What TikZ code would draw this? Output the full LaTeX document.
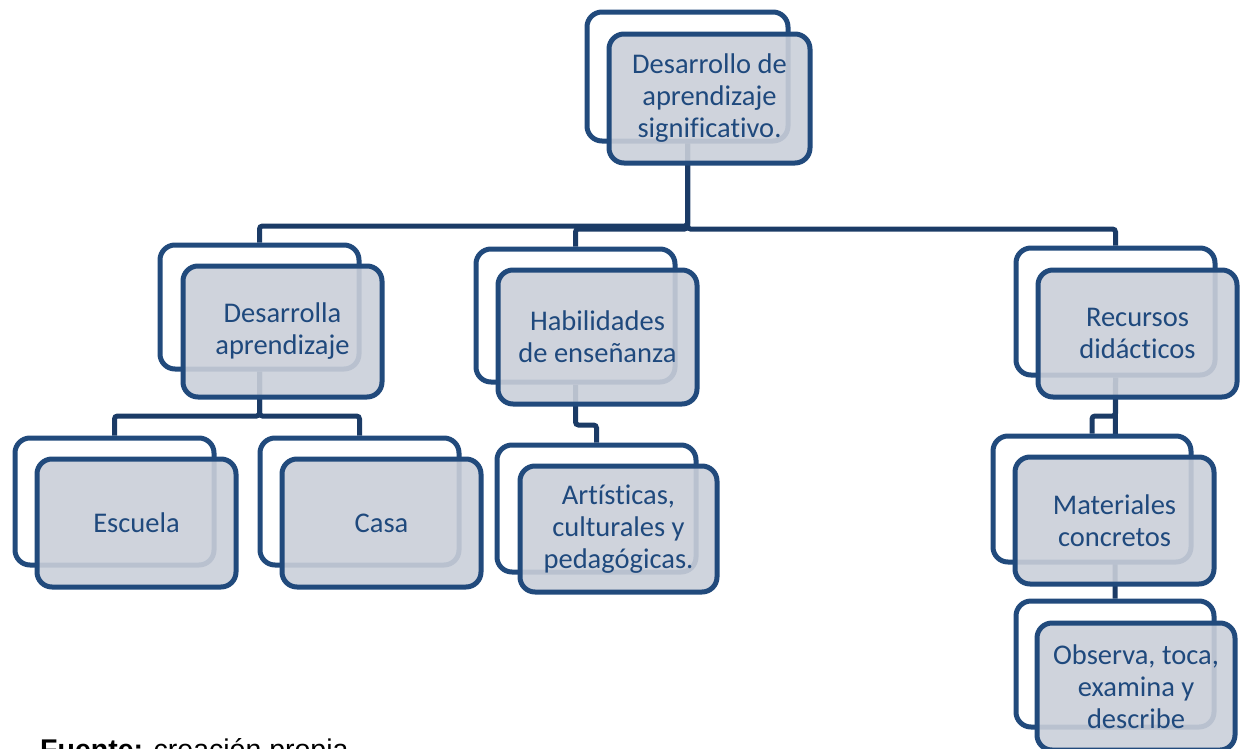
\documentclass[tikz,border=0pt]{standalone}
\usepackage{fontspec}
\setmainfont{Carlito}[Ligatures={NoCommon}]
\newfontfamily\arialf{Liberation Sans}
\usetikzlibrary{fit}
\pgfdeclarelayer{bg}
\pgfsetlayers{bg,main}
\definecolor{boxline}{HTML}{214A7C}
\definecolor{connline}{HTML}{1B3B66}
\definecolor{boxtext}{HTML}{1F497D}
\definecolor{boxfill}{RGB}{202,207,217}
\tikzset{
  backbox/.style={draw=boxline, line width=5pt, fill=white, rounded corners=15pt, inner sep=0pt},
  frontbox/.style={draw=boxline, line width=5pt, fill=boxfill, fill opacity=0.9, draw opacity=1, rounded corners=15pt, inner sep=0pt},
  boxtxt/.style={text=boxtext, align=center, inner sep=0pt, font=\fontsize{28.5}{32}\selectfont},
  conn/.style={draw=connline, line width=5pt, rounded corners=3pt}
}
\begin{document}
\begin{tikzpicture}[x=1pt,y=-1pt]
\useasboundingbox (0,0) rectangle (1243,748);
% top
\node[backbox, fit={(587,12) (788,141)}] (topB) {};
\node[frontbox, fit={(609,34) (810,163)}] (topF) {};
\node[boxtxt] (topT) at (topF.center) {Desarrollo de\\aprendizaje\\significativo.};
% level 2
\node[backbox, fit={(160,245) (359,369)}] (desB) {};
\node[frontbox, fit={(183,266) (382,397)}] (desF) {};
\node[boxtxt] (desT) at (desF.center) {Desarrolla\\aprendizaje};
\node[backbox, fit={(476,249) (675,382)}] (habB) {};
\node[frontbox, fit={(498,270) (697,404)}] (habF) {};
\node[boxtxt] (habT) at (habF.center) {Habilidades\\de enseñanza};
\node[backbox, fit={(1016,248) (1215,375)}] (recB) {};
\node[frontbox, fit={(1038,270) (1237,397)}] (recF) {};
\node[boxtxt] (recT) at (recF.center) {Recursos\\didácticos};
% level 3
\node[backbox, fit={(15,438) (214,565)}] (escB) {};
\node[frontbox, fit={(37,459) (236,587)}] (escF) {};
\node[boxtxt] (escT) at (escF.center) {Escuela};
\node[backbox, fit={(260,438) (459,565)}] (casaB) {};
\node[frontbox, fit={(282,459) (481,587)}] (casaF) {};
\node[boxtxt] (casaT) at (casaF.center) {Casa};
\node[backbox, fit={(497,445) (696,572)}] (artB) {};
\node[frontbox, fit={(520,466) (717,592)}] (artF) {};
\node[boxtxt] (artT) at (artF.center) {Artísticas,\\culturales y\\pedagógicas.};
\node[backbox, fit={(993,436) (1191,562)}] (matB) {};
\node[frontbox, fit={(1015,457) (1214,584)}] (matF) {};
\node[boxtxt] (matT) at (matF.center) {Materiales\\concretos};
\node[backbox, fit={(1016,601) (1214,727)}] (obsB) {};
\node[frontbox, fit={(1037,623) (1235,750)}] (obsF) {};
\node[boxtxt] (obsT) at (obsF.center) {Observa, toca,\\examina y\\describe};
% caption
\node[anchor=base west, inner sep=0pt, font=\arialf\fontsize{28.5}{32}\selectfont] (fuente) at (40,759) {\textbf{Fuente:} creación propia};
% connectors
\begin{pgfonlayer}{bg}
\draw[conn] (topB.south) -- (topB.south |- 0,226) -| (desB.north);
\draw[conn] (topB.south) -- (topB.south |- 0,229) -| (habB.north);
\draw[conn] (topB.south) -- (topB.south |- 0,229) -| (recB.north);
\draw[conn] (desB.south) -- (desB.south |- 0,416) -| (escB.north);
\draw[conn] (desB.south) -- (desB.south |- 0,416) -| (casaB.north);
\draw[conn] (habB.south) -- (habB.south |- 0,425) -| (artB.north);
\draw[conn] (recB.south) -- (recB.south |- 0,416) -| (matB.north);
\draw[conn] (recB.south) -- (obsB.north);
\end{pgfonlayer}
\end{tikzpicture}
\end{document}
